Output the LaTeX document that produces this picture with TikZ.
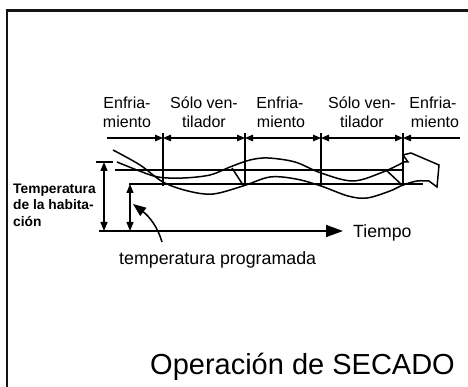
\documentclass[tikz,border=0pt]{standalone}
\usepackage{fontspec}
\setmainfont{Liberation Sans}
\usetikzlibrary{arrows.meta}
\begin{document}
\begin{tikzpicture}[x=1pt,y=-1pt,
  ln/.style={line width=1.5pt, black},
  thin/.style={line width=1.2pt, black},
  tipS/.tip={Triangle[length=8pt,width=6.5pt]},
  tipM/.tip={Triangle[length=9pt,width=7pt]},
  dimR/.style={thin, -tipS},
  dimLR/.style={thin, tipS-tipS},
  dbl/.style={thin, tipM-tipM},
  bigarrow/.style={ln, -{Triangle[length=17pt,width=12pt]}},
  ptr/.style={ln, -{Triangle[length=13pt,width=10pt]}},
  lab/.style={font=\fontsize{16}{19}\selectfont, inner sep=0pt, anchor=base},
  side/.style={font=\bfseries\fontsize{13.8}{16}\selectfont, inner sep=0pt, anchor=base west},
  big/.style={font=\fontsize{17.8}{20}\selectfont, inner sep=0pt, anchor=base west}
]
\useasboundingbox (0,0) rectangle (468,387);
\fill[white] (0,0) rectangle (468,387);
% frame
\draw[line width=2.6pt, black!92, line join=miter] (7,388) -- (7,10.5) -- (469,10.5);

% phase labels
\node[lab] (e1a) at (127,109) {Enfria-};
\node[lab] (e1b) at (127,128) {miento};
\node[lab] (s1a) at (204,109) {Sólo ven-};
\node[lab] (s1b) at (204,128) {tilador};
\node[lab] (e2a) at (280,109) {Enfria-};
\node[lab] (e2b) at (281,128) {miento};
\node[lab] (s2a) at (362,109) {Sólo ven-};
\node[lab] (s2b) at (362,128) {tilador};
\node[lab] (e3a) at (433,109) {Enfria-};
\node[lab] (e3b) at (435,128) {miento};

% dimension row
\coordinate (t0) at (107,138);
\coordinate (t1) at (163,138);
\coordinate (t2) at (245,138);
\coordinate (t3) at (321,138);
\coordinate (t4) at (403,138);
\coordinate (t5) at (460,138);
\foreach \n/\x in {1/163,2/245,3/321,4/403}{
  \coordinate (u\n) at (\x,133);
  \coordinate (b\n) at (\x,186);
  \draw[thin] (u\n) -- (b\n);
}
\draw[dimR] (t0) -- (t1);
\draw[dimLR] (t1) -- (t2);
\draw[dimLR] (t2) -- (t3);
\draw[dimLR] (t3) -- (t4);
\draw[dimR] (t5) -- (t4);

% reference lines
\coordinate (k1) at (96,162);
\coordinate (k2) at (113,162);
\draw[ln] (k1) -- (k2);
\coordinate (va) at (104,162);
\coordinate (vb) at (104,231);
\draw[dbl] (va) -- (vb);
\coordinate (h1a) at (115,170);
\coordinate (h1b) at (403,170);
\draw[ln] (h1a) -- (h1b);
\coordinate (h2a) at (129,184);
\coordinate (h2b) at (423,184);
\draw[ln] (h2a) -- (h2b);
\coordinate (sa) at (130,184);
\coordinate (sb) at (130,231);
\draw[dbl] (sa) -- (sb);
\coordinate (base0) at (99,231);
\coordinate (base1) at (343,231);
\draw[bigarrow] (base0) -- (base1);

% ribbon
\draw[ln] plot[smooth, tension=0.55] coordinates {(113,150) (140,165) (163,182) (188,191) (213,194) (243,186) (270,177) (296,179) (321,186) (348,196) (367,198) (390,191) (403,185) (417,181) (429,181)};
\draw[ln] plot[smooth, tension=0.55] coordinates {(117,162) (137,170) (158,177) (183,178) (210,175) (230,167) (250,160) (268,158) (295,162) (321,173) (353,181) (383,172) (404,162)};
\draw[ln, line join=miter] (404,162) -- (408,162) -- (403,155) -- (411,153) -- (439,165) -- (437,187) -- (429,181);
\draw[ln] (232,168) -- (243,185);
\draw[ln] (386,170) -- (402,185);

% pointer
\coordinate (p0) at (162,242);
\coordinate (p1) at (133,204);
\draw[ptr] (p0) .. controls (158,228) and (150,217) .. (p1);

% texts
\node[side] (rt1) at (13,194) {Temperatura};
\node[side] (rt2) at (13,210) {de la habita-};
\node[side] (rt3) at (13,226) {ción};
\node[big] (tp) at (119,264) {temperatura programada};
\node[big, font=\fontsize{17.7}{20}\selectfont] (ti) at (353,237) {Tiempo};
\node[font=\fontsize{29}{32}\selectfont, inner sep=0pt, anchor=base west] (title) at (150,374) {Operación de SECADO};
\end{tikzpicture}
\end{document}
